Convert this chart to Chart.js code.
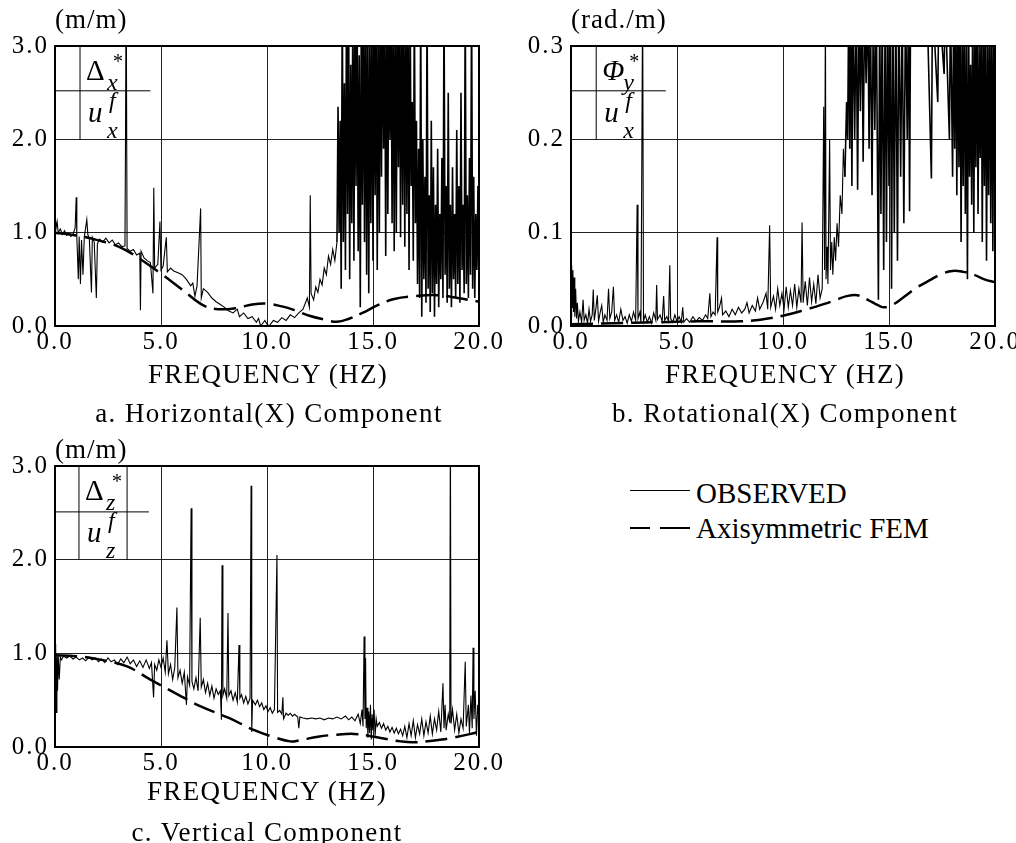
<!DOCTYPE html>
<html>
<head>
<meta charset="utf-8">
<script src="https://cdn.jsdelivr.net/npm/chart.js@4.4.0/dist/chart.umd.min.js"></script>
<style>
  html, body { margin: 0; padding: 0; background: #fff; }
  body { width: 1016px; height: 843px; position: relative; overflow: hidden; font-family: 'Liberation Serif', 'Times New Roman', serif; color: #000; }
  canvas { position: absolute; }
  .t { position: absolute; white-space: nowrap; line-height: 1; }
  .c { transform: translateX(-50%); }
  .unit { font-size: 27px; letter-spacing: 1px; }
  .xt { font-size: 27px; letter-spacing: 1.3px; }
  .cap { font-size: 27px; letter-spacing: 1.4px; }
  .lg { font-size: 29px; }
  .ln { position: absolute; border-top: 1.5px solid #000; }
  .dl { position: absolute; border-top: 2.5px solid #000; }
</style>
</head>
<body>
<canvas id="chartA" width="520" height="360" style="left:0;top:0"></canvas>
<canvas id="chartB" width="520" height="360" style="left:516px;top:0"></canvas>
<canvas id="chartC" width="520" height="361" style="left:0;top:420px"></canvas>

<div class="t unit" style="left:55px;top:6px">(m/m)</div>
<div class="t unit" style="left:571px;top:6px">(rad./m)</div>
<div class="t unit" style="left:55px;top:436px">(m/m)</div>

<div class="t xt c" style="left:268px;top:361px">FREQUENCY (HZ)</div>
<div class="t cap c" style="left:269px;top:400px">a. Horizontal(X) Component</div>
<div class="t xt c" style="left:785px;top:361px">FREQUENCY (HZ)</div>
<div class="t cap c" style="left:785px;top:400px">b. Rotational(X) Component</div>
<div class="t xt c" style="left:267px;top:778px">FREQUENCY (HZ)</div>
<div class="t cap c" style="left:267px;top:819px">c. Vertical Component</div>

<div class="ln" style="left:630px;top:490px;width:60px"></div>
<div class="t lg" style="left:696px;top:479px">OBSERVED</div>
<div class="dl" style="left:630px;top:527px;width:20px"></div>
<div class="dl" style="left:660px;top:527px;width:30px"></div>
<div class="t lg" style="left:696px;top:514px">Axisymmetric FEM</div>

<script>
// (a) horizontal component, observed
const obsAx = [0.00,0.05,0.10,0.15,0.25,0.35,0.45,0.55,0.65,0.75,0.85,0.95,1.00,1.03,1.10,1.14,1.20,1.25,1.32,1.38,1.50,1.55,1.62,1.72,1.76,1.85,1.95,2.00,2.10,2.25,2.40,2.55,2.70,2.85,3.00,3.15,3.30,3.36,3.40,3.55,3.70,3.85,4.00,4.03,4.06,4.20,4.35,4.50,4.62,4.66,4.70,4.85,4.95,5.00,5.10,5.25,5.30,5.45,5.60,5.80,6.00,6.20,6.40,6.50,6.60,6.70,6.87,6.90,7.00,7.20,7.40,7.60,7.80,8.00,8.20,8.40,8.60,8.70,8.90,9.10,9.30,9.50,9.60,9.70,9.90,10.00,10.10,10.30,10.50,10.70,10.90,11.10,11.30,11.50,11.70,11.90,12.00,12.04,12.08,12.20,12.30,12.40,12.50,12.60,12.70,12.80,12.90,13.00,13.10,13.20,13.30,
  13.35,13.40,13.45,13.50,13.55,13.60,13.65,13.70,13.75,13.80,13.85,13.90,13.95,14.00,14.05,14.10,14.15,14.20,14.25,14.30,14.35,14.40,14.45,14.50,14.55,14.60,14.65,14.70,14.75,14.80,14.85,14.90,14.95,15.00,15.05,15.10,15.15,15.20,15.25,15.30,15.35,15.40,15.45,15.50,15.55,15.60,15.65,15.70,15.75,15.80,15.85,15.90,15.95,16.00,16.05,16.10,16.15,16.20,16.25,16.30,16.35,16.40,16.45,16.50,16.55,16.60,16.65,16.70,16.75,16.80,16.85,16.90,16.95,17.00,17.05,17.10,17.15,17.20,17.25,17.30,17.35,17.40,17.45,17.50,17.55,17.60,17.65,17.70,17.75,17.80,17.85,17.90,17.95,18.00,18.05,18.10,18.15,18.20,18.25,18.30,18.35,18.40,18.45,18.50,18.55,18.60,18.65,18.70,18.75,18.80,18.85,18.90,18.95,19.00,19.05,19.10,19.15,19.20,19.25,19.30,19.35,19.40,19.45,19.50,19.55,19.60,19.65,19.70,19.75,19.80,19.85,19.90,19.95,20.00];
const obsAy = [1.20,1.05,1.12,1.00,1.04,0.98,1.02,0.97,0.99,0.96,0.98,1.05,1.38,0.95,0.50,0.96,0.45,0.92,0.55,0.95,1.14,0.98,0.93,0.36,0.95,0.90,0.30,0.88,0.93,0.90,0.94,0.89,0.92,0.87,0.89,0.85,0.86,3.50,0.83,0.80,0.82,0.76,0.78,0.17,0.80,0.73,0.70,0.68,0.35,1.48,0.62,0.66,1.12,0.60,0.64,0.95,0.58,0.62,0.59,0.57,0.55,0.50,0.43,0.46,0.32,0.43,1.26,0.30,0.40,0.36,0.30,0.26,0.23,0.20,0.16,0.14,0.18,0.10,0.14,0.08,0.10,0.04,0.08,0.00,0.06,0.02,0.00,0.06,0.04,0.09,0.06,0.12,0.09,0.14,0.18,0.30,0.20,1.40,0.35,0.28,0.42,0.36,0.50,0.44,0.62,0.55,0.75,0.66,0.82,0.70,0.90,
  2.35,1.00,2.20,0.40,3.50,0.90,2.60,0.60,3.50,1.20,3.50,0.50,2.80,1.10,3.50,0.70,3.50,1.50,3.50,0.80,2.90,0.20,3.50,1.30,3.50,0.90,3.50,0.55,3.50,0.35,3.20,1.10,3.50,0.70,3.50,1.40,3.50,0.60,3.50,1.00,3.50,1.60,3.50,1.90,3.50,0.75,3.50,1.20,3.50,2.00,3.50,1.10,3.50,0.80,3.50,1.00,3.50,1.70,3.50,0.95,3.50,1.30,3.50,0.85,3.50,1.20,3.50,0.60,3.50,1.50,2.40,0.70,3.50,1.10,2.20,0.45,1.90,0.30,3.50,0.10,2.00,0.50,1.60,0.25,3.50,0.40,1.40,0.15,2.20,0.35,1.70,0.10,1.30,0.45,1.90,0.20,1.20,0.50,1.80,0.30,3.50,0.55,1.50,0.25,2.50,0.40,1.30,0.20,1.70,0.50,1.20,0.30,2.10,0.45,1.50,0.25,2.50,0.60,1.30,0.35,3.50,0.45,1.40,0.30,1.80,0.55,3.50,0.40,1.60,0.30,1.20,0.60,1.50,0.40];

// (a) axisymmetric FEM
const femAx = [0,1,2,3,4,5,6,7,7.7,8.5,9.3,10,10.7,11.3,12,12.7,13.3,13.9,14.5,15.2,16,17,18,19,20];
const femAy = [1.00,0.97,0.92,0.85,0.72,0.56,0.39,0.22,0.18,0.19,0.23,0.24,0.21,0.17,0.11,0.07,0.045,0.08,0.14,0.22,0.29,0.32,0.33,0.30,0.26];

// (b) rotational component, observed
const obsBx = [0.00,0.03,0.06,0.09,0.12,0.15,0.18,0.22,0.26,0.30,0.35,0.42,0.50,0.57,0.62,0.70,0.78,0.85,0.92,1.00,1.05,1.10,1.18,1.24,1.30,1.38,1.45,1.52,1.60,1.70,1.77,1.83,1.92,2.00,2.06,2.15,2.25,2.35,2.45,2.55,2.65,2.75,2.85,2.95,3.05,3.12,3.16,3.25,3.30,3.38,3.42,3.50,3.60,3.70,3.80,3.90,4.00,4.04,4.08,4.20,4.30,4.37,4.42,4.52,4.60,4.66,4.70,4.80,4.90,5.00,5.10,5.20,5.27,5.32,5.45,5.60,5.75,5.90,6.05,6.20,6.35,6.45,6.55,6.60,6.70,6.80,6.89,6.92,7.00,7.10,7.15,7.30,7.45,7.60,7.75,7.90,8.05,8.20,8.30,8.40,8.55,8.70,8.80,8.90,9.05,9.20,9.28,9.37,9.42,9.55,9.65,9.75,9.85,9.95,10.05,10.15,10.25,10.35,10.45,10.55,10.65,10.75,10.85,10.90,10.95,11.05,11.15,11.25,11.35,11.45,11.55,11.65,11.75,11.85,11.92,11.96,12.00,12.03,12.08,12.12,12.20,12.24,12.30,12.35,12.42,12.48,12.55,12.62,12.70,12.78,12.85,12.92,13.00,13.05,13.10,13.15,13.20,13.25,13.30,13.38,13.45,13.52,13.58,13.65,13.72,13.78,13.85,13.92,14.00,14.06,14.12,14.20,14.26,14.33,14.40,14.50,14.56,14.62,14.68,14.75,14.82,14.88,14.94,15.00,15.06,15.12,15.18,15.25,15.32,15.40,15.46,15.55,15.62,15.70,15.78,15.86,15.92,15.97,16.02,16.40,16.80,17.00,17.05,17.30,17.35,17.60,17.65,17.85,17.90,18.00,18.05,18.10,18.15,18.20,18.25,18.30,18.35,18.40,18.45,18.50,18.55,18.60,18.65,18.70,18.75,18.80,18.85,18.90,18.95,19.00,19.05,19.10,19.15,19.20,19.25,19.30,19.35,19.40,19.45,19.50,19.55,19.60,19.65,19.70,19.75,19.80,19.85,19.90,19.95,20.00];
const obsBy = [0.010,0.065,0.020,0.060,0.015,0.052,0.010,0.040,0.008,0.025,0.005,0.015,0.004,0.028,0.006,0.012,0.003,0.018,0.005,0.012,0.039,0.006,0.020,0.033,0.005,0.015,0.022,0.004,0.012,0.006,0.040,0.008,0.015,0.042,0.006,0.012,0.004,0.018,0.006,0.010,0.003,0.012,0.005,0.015,0.006,0.130,0.008,0.015,0.004,0.350,0.005,0.012,0.004,0.010,0.003,0.014,0.006,0.044,0.007,0.012,0.005,0.032,0.006,0.010,0.005,0.065,0.008,0.004,0.012,0.005,0.010,0.004,0.020,0.004,0.008,0.004,0.010,0.005,0.009,0.006,0.012,0.008,0.035,0.010,0.015,0.012,0.095,0.015,0.020,0.030,0.012,0.016,0.010,0.018,0.012,0.020,0.014,0.018,0.025,0.014,0.022,0.016,0.030,0.018,0.025,0.035,0.018,0.108,0.020,0.032,0.018,0.040,0.022,0.035,0.018,0.042,0.020,0.038,0.022,0.045,0.020,0.040,0.025,0.111,0.025,0.048,0.022,0.052,0.026,0.045,0.024,0.055,0.030,0.040,0.235,0.060,0.350,0.050,0.085,0.045,0.200,0.060,0.090,0.055,0.095,0.070,0.110,0.085,0.140,0.120,0.190,0.160,0.240,0.200,0.350,0.190,0.350,0.150,0.350,0.200,0.350,0.146,0.350,0.230,0.350,0.176,0.350,0.260,0.350,0.190,0.350,0.140,0.350,0.210,0.350,0.028,0.350,0.120,0.350,0.060,0.350,0.090,0.350,0.150,0.350,0.040,0.350,0.100,0.350,0.070,0.350,0.160,0.350,0.110,0.350,0.200,0.350,0.123,0.350,0.360,0.340,0.158,0.350,0.240,0.350,0.270,0.350,0.200,0.350,0.160,0.350,0.190,0.350,0.140,0.330,0.170,0.350,0.090,0.320,0.150,0.350,0.120,0.300,0.050,0.350,0.160,0.280,0.130,0.350,0.100,0.320,0.170,0.350,0.120,0.300,0.180,0.350,0.090,0.330,0.150,0.350,0.070,0.310,0.140,0.350,0.110,0.330,0.080,0.350,0.130];

// (b) axisymmetric FEM
const femBx = [0,2,4,6,8,9,10,11,12,12.5,13,13.5,14,14.5,14.8,15.2,15.7,16.3,17,17.5,18,18.5,19,19.5,20];
const femBy = [0.002,0.003,0.004,0.005,0.005,0.007,0.011,0.017,0.024,0.028,0.032,0.033,0.028,0.022,0.020,0.023,0.031,0.041,0.050,0.056,0.059,0.058,0.055,0.050,0.047];

// (c) vertical component, observed
const obsCx = [0.00,0.03,0.06,0.09,0.12,0.15,0.20,0.25,0.30,0.40,0.55,0.70,0.85,1.00,1.15,1.30,1.45,1.60,1.75,1.90,2.05,2.20,2.35,2.50,2.65,2.80,2.95,3.10,3.25,3.40,3.55,3.70,3.85,4.00,4.15,4.30,4.45,4.55,4.65,4.70,4.80,4.90,5.00,5.10,5.20,5.28,5.35,5.45,5.55,5.65,5.75,5.80,5.90,6.00,6.10,6.20,6.25,6.35,6.42,6.46,6.55,6.65,6.75,6.85,6.90,7.00,7.10,7.20,7.30,7.40,7.50,7.60,7.70,7.80,7.85,7.88,7.92,8.00,8.10,8.16,8.20,8.30,8.40,8.50,8.60,8.68,8.72,8.80,8.90,9.00,9.10,9.20,9.25,9.28,9.32,9.45,9.55,9.65,9.75,9.85,9.95,10.05,10.15,10.25,10.35,10.47,10.50,10.60,10.70,10.75,10.78,10.90,11.00,11.10,11.20,11.30,11.45,11.50,11.55,11.70,11.90,12.10,12.30,12.50,12.70,12.90,13.10,13.30,13.50,13.70,13.85,14.00,14.15,14.30,14.40,14.48,14.53,14.58,14.62,14.65,14.68,14.72,14.76,14.80,14.84,14.88,14.92,14.96,15.00,15.05,15.10,15.15,15.20,15.30,15.40,15.50,15.60,15.70,15.80,15.90,16.00,16.10,16.20,16.30,16.40,16.50,16.60,16.70,16.80,16.90,17.00,17.10,17.20,17.30,17.40,17.50,17.60,17.70,17.80,17.90,18.00,18.10,18.20,18.30,18.35,18.40,18.45,18.55,18.62,18.65,18.68,18.75,18.85,18.95,19.05,19.15,19.25,19.35,19.40,19.50,19.55,19.62,19.68,19.72,19.76,19.82,19.88,19.94,20.00];
const obsCy = [0.40,1.10,0.37,0.97,0.60,0.98,0.72,0.96,0.93,0.97,0.95,0.97,0.94,0.96,0.93,0.95,0.92,0.96,0.93,0.95,0.91,0.94,0.90,0.95,0.91,0.93,0.88,0.94,0.90,0.96,0.89,0.93,0.86,0.92,0.85,0.93,0.84,0.90,0.53,0.88,0.82,0.93,0.85,0.95,0.80,1.14,0.78,0.88,0.72,0.85,1.49,0.74,0.82,0.68,0.80,0.45,0.75,0.66,2.55,0.70,0.62,0.74,0.60,1.38,0.64,0.72,0.58,0.68,0.55,0.65,0.52,0.62,0.56,0.60,0.29,1.94,0.55,0.62,0.52,1.43,0.55,0.60,0.50,0.58,0.48,1.09,0.52,0.56,0.47,0.54,0.46,0.52,2.79,0.16,0.50,0.45,0.50,0.43,0.47,0.40,0.44,0.38,0.42,0.36,0.40,2.05,0.37,0.39,0.35,0.53,0.30,0.36,0.34,0.36,0.33,0.35,0.32,0.20,0.32,0.31,0.30,0.31,0.30,0.31,0.29,0.31,0.30,0.32,0.30,0.33,0.29,0.32,0.28,0.35,0.25,0.40,0.22,1.18,0.30,0.95,0.20,0.42,0.10,0.38,0.15,0.45,0.08,0.35,0.18,0.40,0.12,0.30,0.22,0.26,0.20,0.25,0.18,0.22,0.16,0.21,0.15,0.20,0.14,0.19,0.12,0.22,0.10,0.25,0.12,0.28,0.10,0.24,0.14,0.30,0.12,0.27,0.15,0.33,0.14,0.30,0.18,0.38,0.16,0.68,0.20,0.45,0.18,0.35,0.26,3.50,0.25,0.40,0.18,0.35,0.15,0.30,0.20,0.91,0.22,0.45,0.15,0.55,0.20,1.06,0.30,0.60,0.12,0.45,0.30];

// (c) axisymmetric FEM
const femCx = [0,1,2.2,3.4,4.5,5.8,6.9,8.2,9.4,10.4,11.1,11.5,12.4,13.2,14.1,14.8,15.5,16.3,16.9,17.9,18.8,20];
const femCy = [0.98,0.97,0.93,0.86,0.72,0.56,0.43,0.31,0.18,0.10,0.06,0.07,0.11,0.13,0.14,0.12,0.09,0.06,0.05,0.07,0.10,0.16];

const xTicks = [0, 5, 10, 15, 20];

const serif = "'Liberation Serif', 'Times New Roman', serif";

const pairs = (xs, ys) => xs.map((x, i) => ({ x: x, y: ys[i] }));

// frame + the ratio label in the upper-left corner of each panel
const frame = {
  id: 'frame',
  beforeDraw(chart) {
    chart.ctx.letterSpacing = '2px';
  },
  afterDraw(chart, args, opts) {
    const { ctx, chartArea: a, scales: { x, y } } = chart;
    const b = opts.box;
    ctx.save();
    ctx.letterSpacing = '0px';
    ctx.strokeStyle = '#000';
    ctx.lineWidth = 2;
    ctx.strokeRect(a.left, a.top, a.right - a.left, a.bottom - a.top);

    const x1 = x.getPixelForValue(b.x1);
    const x2 = x.getPixelForValue(b.x2);
    const x3 = x.getPixelForValue(b.x3);
    const yMid = y.getPixelForValue(b.yMid);
    const yLow = y.getPixelForValue(b.yLow);
    ctx.lineWidth = 1;
    ctx.beginPath();
    ctx.moveTo(x1, a.top); ctx.lineTo(x1, yLow);
    ctx.moveTo(x2, a.top); ctx.lineTo(x2, yLow);
    ctx.moveTo(a.left, yMid); ctx.lineTo(x3, yMid);
    ctx.stroke();

    ctx.fillStyle = '#000';
    ctx.textBaseline = 'alphabetic';
    ctx.textAlign = 'left';
    ctx.font = (b.numItalic ? 'italic ' : '') + '29px ' + serif;
    ctx.fillText(b.num, x1 + 6, a.top + 34);
    ctx.font = '20px ' + serif;
    ctx.fillText('*', x1 + 33, a.top + 22);
    ctx.font = 'italic 24px ' + serif;
    ctx.fillText(b.sub1, x1 + 27, a.top + 44);
    ctx.font = 'italic 29px ' + serif;
    ctx.fillText('u', x1 + 8, a.top + 76);
    ctx.font = 'italic 24px ' + serif;
    ctx.fillText('f', x1 + 29, a.top + 62);
    ctx.fillText(b.sub2, x1 + 27, a.top + 92);
    ctx.restore();
  }
};

function makeChart(id, obsX, obsY, femX, femY, yMax, yStep, denseFrom, box) {
  const tickFont = { family: serif, size: 25 };
  return new Chart(document.getElementById(id), {
    type: 'line',
    data: {
      datasets: [{
        label: 'OBSERVED',
        data: pairs(obsX, obsY),
        borderColor: '#000',
        borderWidth: 1.1,
        pointRadius: 0,
        tension: 0,
        // the dense resonance band is drawn a bit heavier, like the scan
        segment: { borderWidth: c => c.p0.parsed.x >= denseFrom ? 1.6 : 1.1 }
      }, {
        label: 'Axisymmetric FEM',
        data: pairs(femX, femY),
        borderColor: '#000',
        borderWidth: 2.5,
        borderDash: [22, 8],
        pointRadius: 0,
        tension: 0.4
      }]
    },
    options: {
      responsive: false,
      animation: false,
      devicePixelRatio: 1,
      layout: { padding: { left: 0, top: 46, right: 41, bottom: 0 } },
      scales: {
        x: {
          type: 'linear',
          min: 0,
          max: 20,
          afterFit: s => { s.height = 34; },
          afterBuildTicks: s => { s.ticks = xTicks.map(v => ({ value: v })); },
          ticks: { padding: 1, maxRotation: 0, color: '#000', font: tickFont, callback: v => Number(v).toFixed(1) },
          grid: { color: '#222', lineWidth: 1, drawTicks: false },
          border: { display: false }
        },
        y: {
          min: 0,
          max: yMax,
          afterFit: s => { s.width = 55; },
          ticks: { stepSize: yStep, padding: 6, color: '#000', font: tickFont, callback: v => Number(v).toFixed(1) },
          grid: { color: '#222', lineWidth: 1, drawTicks: false },
          border: { display: false }
        }
      },
      plugins: {
        legend: { display: false },
        tooltip: { enabled: false },
        frame: { box: box }
      }
    },
    plugins: [frame]
  });
}

makeChart('chartA', obsAx, obsAy, femAx, femAy, 3.0, 1.0, 13.3,
  { x1: 1.18, x2: 3.36, x3: 4.5, yMid: 2.52, yLow: 2.0, num: '\u0394', numItalic: false, sub1: 'x', sub2: 'x' });
makeChart('chartB', obsBx, obsBy, femBx, femBy, 0.3, 0.1, 12.9,
  { x1: 1.19, x2: 3.37, x3: 4.47, yMid: 0.252, yLow: 0.2, num: '\u03A6', numItalic: true, sub1: 'y', sub2: 'x' });
makeChart('chartC', obsCx, obsCy, femCx, femCy, 3.0, 1.0, 99,
  { x1: 1.13, x2: 3.4, x3: 4.43, yMid: 2.51, yLow: 2.0, num: '\u0394', numItalic: false, sub1: 'z', sub2: 'z' });
</script>
</body>
</html>
